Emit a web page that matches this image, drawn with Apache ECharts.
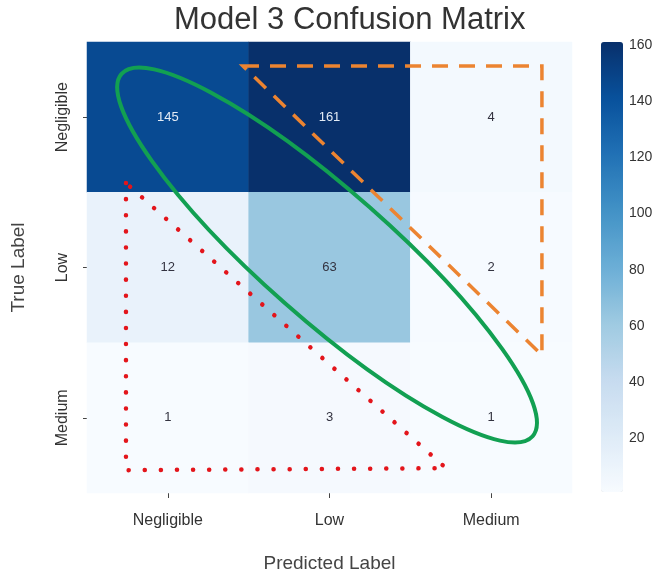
<!DOCTYPE html>
<html>
<head>
<meta charset="utf-8">
<script src="https://cdn.jsdelivr.net/npm/echarts@6/dist/echarts.min.js"></script>
<style>
html,body{margin:0;padding:0;background:#fff;}
#chart{width:660px;height:575px;}
</style>
</head>
<body>
<div id="chart"></div>
<script>
// ---- data ----
const predictedLabels = ['Negligible', 'Low', 'Medium'];
const trueLabels = ['Negligible', 'Low', 'Medium'];
// rows = true label, columns = predicted label
const rowNegligible = [145, 161, 4];
const rowLow = [12, 63, 2];
const rowMedium = [1, 3, 1];
const colorbarTicks = [20, 40, 60, 80, 100, 120, 140, 160];
const colorMin = 1;
const colorMax = 161;

// annotation shapes, in cell units (column index, row index)
const orangeTriangle = [[0.465, -0.34], [2.314, -0.34], [2.314, 1.583]];
const redTriangle = [[-0.259, 0.438], [-0.259, 2.348], [1.721, 2.335]];
const greenEllipseCenter = [0.985, 0.917];

const blues = ['#f7fbff', '#deebf7', '#c6dbef', '#9ecae1', '#6baed6', '#4292c6', '#2171b5', '#08519c', '#08306b'];
const FONT = 'Liberation Sans, Arial, sans-serif';

const rows = [rowNegligible, rowLow, rowMedium];
const heatData = [];
rows.forEach((row, r) => {
  row.forEach((v, c) => {
    heatData.push({
      value: [c, r, v],
      label: { color: v > 100 ? '#e3ebf5' : '#333340' }
    });
  });
});

const chart = echarts.init(document.getElementById('chart'), null, { renderer: 'canvas' });

const option = {
  backgroundColor: '#ffffff',
  animation: false,
  title: {
    text: 'Model 3 Confusion Matrix',
    left: 169,
    top: 0,
    textStyle: { fontFamily: FONT, fontSize: 31, fontWeight: 'normal', color: '#333333' }
  },
  grid: [
    { left: 87, top: 42, width: 485, height: 451, outerBoundsMode: 'none', containLabel: false },
    { left: 601, top: 42, width: 22, height: 450, outerBoundsMode: 'none', containLabel: false }
  ],
  xAxis: [
    {
      type: 'category', gridIndex: 0, data: predictedLabels,
      name: 'Predicted Label', nameLocation: 'middle', nameGap: 61,
      nameTextStyle: { fontFamily: FONT, fontSize: 19, color: '#444444' },
      axisLine: { show: false },
      axisTick: { show: true, alignWithLabel: true, length: 5, lineStyle: { color: '#444' } },
      axisLabel: { fontFamily: FONT, fontSize: 16, color: '#333333', margin: 20 },
      splitLine: { show: false }
    },
    { type: 'value', gridIndex: 1, show: false, min: 0, max: 1 }
  ],
  yAxis: [
    {
      type: 'category', gridIndex: 0, data: trueLabels, inverse: true,
      name: 'True Label', nameLocation: 'middle', nameGap: 59, nameRotate: 90,
      nameTextStyle: { fontFamily: FONT, fontSize: 19, color: '#444444' },
      axisLine: { show: false },
      axisTick: { show: true, alignWithLabel: true, length: 4, lineStyle: { color: '#444' } },
      axisLabel: { fontFamily: FONT, fontSize: 16, color: '#333333', rotate: 90, margin: 16 },
      splitLine: { show: false }
    },
    {
      type: 'value', gridIndex: 1, position: 'right', min: colorMin, max: colorMax,
      axisLine: { show: false },
      axisTick: { show: true, length: 4, customValues: colorbarTicks, lineStyle: { color: '#444' } },
      axisLabel: { fontFamily: FONT, fontSize: 14, color: '#333333', margin: 6, customValues: colorbarTicks },
      splitLine: { show: false }
    }
  ],
  visualMap: {
    type: 'continuous',
    min: colorMin, max: colorMax,
    seriesIndex: 0,
    calculable: false,
    realtime: false,
    orient: 'vertical',
    left: 601, top: 42,
    padding: 0,
    itemWidth: 22, itemHeight: 450,
    text: null,
    showLabel: false,
    inRange: { color: blues }
  },
  series: [{
    type: 'heatmap',
    xAxisIndex: 0, yAxisIndex: 0,
    data: heatData,
    label: { show: true, fontFamily: FONT, fontSize: 13 },
    emphasis: { disabled: true },
    itemStyle: { borderWidth: 0 }
  }]
};

chart.setOption(option);

function toPx(u, v) {
  const p0 = chart.convertToPixel({ xAxisIndex: 0, yAxisIndex: 0 }, [0, 0]);
  const p1 = chart.convertToPixel({ xAxisIndex: 0, yAxisIndex: 0 }, [1, 1]);
  return [p0[0] + u * (p1[0] - p0[0]), p0[1] + v * (p1[1] - p0[1])];
}

const ec = toPx(greenEllipseCenter[0], greenEllipseCenter[1]);
chart.setOption({
  graphic: [
    {
      type: 'polygon', z: 100, silent: true,
      shape: { points: orangeTriangle.map(p => toPx(p[0], p[1])) },
      style: { fill: 'none', stroke: '#ec8431', lineWidth: 3.5, lineDash: [16, 11], lineJoin: 'miter' }
    },
    {
      type: 'polygon', z: 101, silent: true,
      shape: { points: redTriangle.map(p => toPx(p[0], p[1])) },
      style: { fill: 'none', stroke: '#e3151b', lineWidth: 4.5, lineDash: [0.1, 16], lineCap: 'round' }
    },
    {
      type: 'ellipse', z: 102, silent: true,
      x: ec[0], y: ec[1], rotation: -41.4 * Math.PI / 180,
      shape: { cx: 0, cy: 0, rx: 274, ry: 64 },
      style: { fill: 'none', stroke: '#12a052', lineWidth: 4 }
    }
  ]
});
</script>
</body>
</html>
